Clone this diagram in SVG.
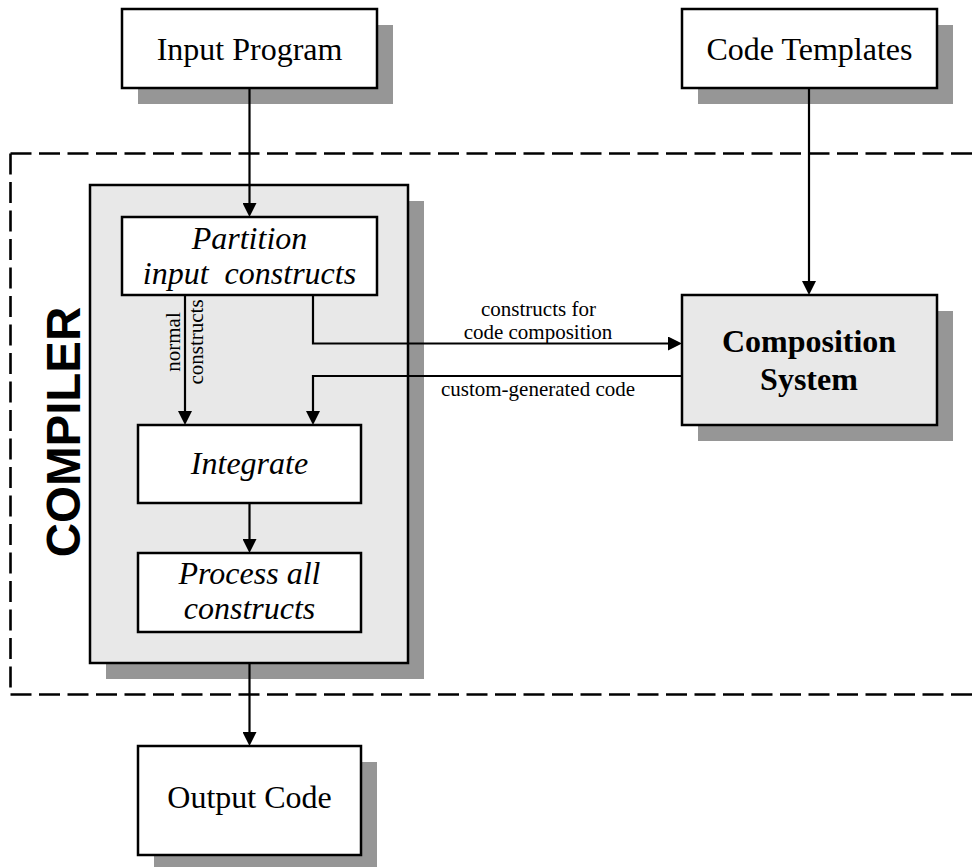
<svg xmlns="http://www.w3.org/2000/svg" width="973" height="867" viewBox="0 0 973 867">
  <style>
    .box { stroke: #000; stroke-width: 2.5; }
    .plain { fill: #fff; }
    .grey { fill: #e8e8e8; }
    .shadow { fill: #969696; }
    .frame { fill: none; stroke: #000; stroke-width: 2.6; stroke-dasharray: 21 7.5; }
    .wire { fill: none; stroke: #000; stroke-width: 2.2; }
    .big { font-family: "Liberation Serif", "Times New Roman", serif; font-size: 32px; text-anchor: middle; fill: #000; }
    .it { font-style: italic; }
    .bold { font-weight: bold; }
    .small { font-family: "Liberation Serif", "Times New Roman", serif; font-size: 21px; text-anchor: middle; fill: #000; }
    .title { font-family: "Liberation Sans", Arial, sans-serif; font-size: 47.5px; font-weight: bold; text-anchor: middle; fill: #000; }
  </style>
  <defs>
    <marker id="head" markerUnits="userSpaceOnUse" markerWidth="14" markerHeight="14" refX="0" refY="7" orient="auto">
      <path d="M0,0 L14,7 L0,14 Z" fill="#000"/>
    </marker>
  </defs>

  <!-- compiler boundary (open on the right) -->
  <g id="compiler-boundary">
    <path class="frame" d="M10.5,153.5 H973"/>
    <path class="frame" d="M10.5,153.5 V694.5"/>
    <path class="frame" d="M10.5,694.5 H973"/>
    <text class="title" transform="translate(79.5,432) rotate(-90)" x="0" y="0">COMPILER</text>
  </g>

  <g id="input-program">
    <rect class="shadow" x="138" y="25" width="255" height="79"/>
    <rect class="box plain" x="122" y="9" width="255" height="79"/>
    <text class="big" x="249.5" y="60">Input Program</text>
  </g>

  <g id="code-templates">
    <rect class="shadow" x="698" y="25" width="255" height="79"/>
    <rect class="box plain" x="682" y="9" width="255" height="79"/>
    <text class="big" x="809.5" y="59.5">Code Templates</text>
  </g>

  <g id="compiler">
    <rect class="shadow" x="106" y="201" width="318" height="478"/>
    <rect class="box grey" x="90" y="185" width="318" height="478"/>
  </g>

  <g id="partition">
    <rect class="box plain" x="122" y="217" width="255" height="78"/>
    <text class="big it" x="249.5" y="248.5">Partition</text>
    <text class="big it" x="249.5" y="283.5" xml:space="preserve">input  constructs</text>
  </g>

  <g id="integrate">
    <rect class="box plain" x="138" y="425" width="223" height="78"/>
    <text class="big it" x="249.5" y="474">Integrate</text>
  </g>

  <g id="process">
    <rect class="box plain" x="138" y="553" width="223" height="79"/>
    <text class="big it" x="249.5" y="584">Process all</text>
    <text class="big it" x="249.5" y="618.5">constructs</text>
  </g>

  <g id="composition-system">
    <rect class="shadow" x="698" y="311" width="255" height="130"/>
    <rect class="box grey" x="682" y="295" width="255" height="130"/>
    <text class="big bold" x="809" y="351.5">Composition</text>
    <text class="big bold" x="809" y="390">System</text>
  </g>

  <g id="output-code">
    <rect class="shadow" x="154" y="762" width="223" height="109"/>
    <rect class="box plain" x="138" y="746" width="223" height="109"/>
    <text class="big" x="249.5" y="808">Output Code</text>
  </g>

  <g id="connectors">
    <path class="wire" d="M249.5,88 V203" marker-end="url(#head)"/>
    <path class="wire" d="M809,88 V281" marker-end="url(#head)"/>
    <path class="wire" d="M185,295 V411" marker-end="url(#head)"/>
    <path class="wire" d="M313,295 V343.5 H668" marker-end="url(#head)"/>
    <path class="wire" d="M682,376 H313 V411" marker-end="url(#head)"/>
    <path class="wire" d="M249.5,503 V539" marker-end="url(#head)"/>
    <path class="wire" d="M249.5,663 V732" marker-end="url(#head)"/>

    <g transform="translate(0,342) rotate(-90)">
      <text class="small" x="0" y="180">normal</text>
      <text class="small" x="0" y="202.5">constructs</text>
    </g>
    <text class="small" x="538.5" y="315.5">constructs for</text>
    <text class="small" x="538" y="338.7">code composition</text>
    <text class="small" x="538" y="396">custom-generated code</text>
  </g>
</svg>
